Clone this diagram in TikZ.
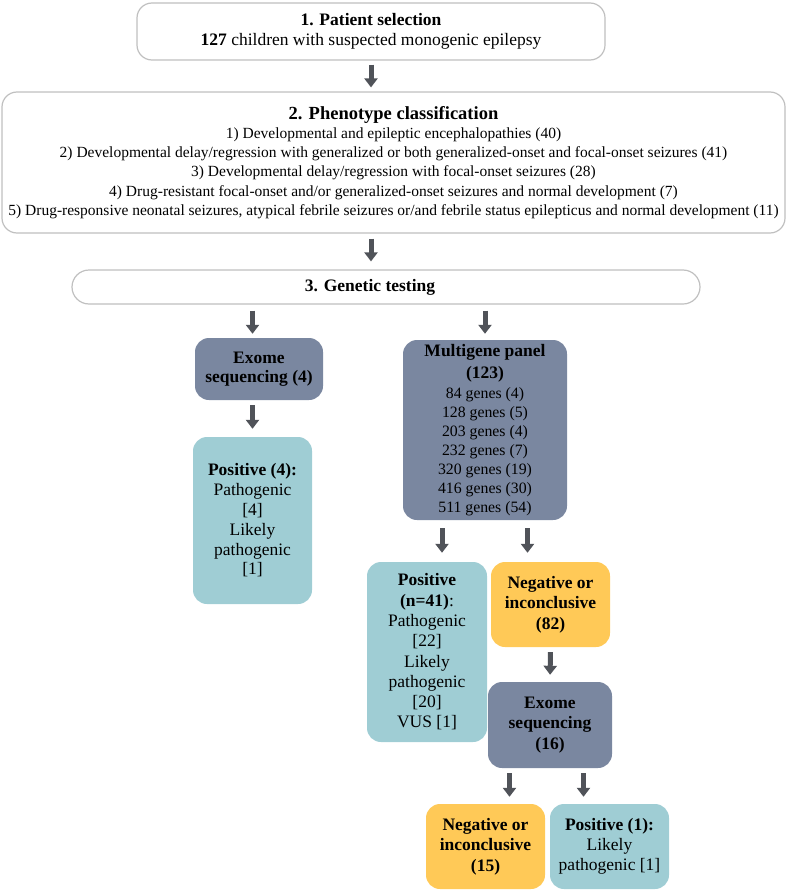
\documentclass[tikz,border=0pt]{standalone}
\usepackage{fontspec}
\setmainfont{Liberation Serif}
\usetikzlibrary{arrows.meta}
\definecolor{slatebox}{HTML}{7A87A0}
\definecolor{tealbox}{HTML}{9FCDD4}
\definecolor{ambbox}{HTML}{FFC957}
\definecolor{arrowgray}{HTML}{505359}
\definecolor{framegray}{HTML}{C0C0C0}
\tikzset{
  stagebox/.style={draw=framegray, line width=1.2pt, rounded corners=15pt, fill=white, align=center, inner sep=0pt},
  resultbox/.style={rounded corners=14pt, align=center, inner sep=0pt, font=\fontsize{17.5}{20.3}\selectfont},
  flow/.style={draw=arrowgray, line width=5pt, -{Triangle[width=13pt,length=9pt]}},
}

\begin{document}
\begin{tikzpicture}[x=1pt,y=-1pt]
	%%%%% START %%%%%
	\useasboundingbox (0,0) rectangle (789,891);
	
	% stages
	\node[stagebox, minimum width=468pt, minimum height=57pt, font=\fontsize{17.5}{19.5}\selectfont] (sel) at (371,31.5)
		{\textbf{1. Patient selection}\\\textbf{127} children with suspected monogenic epilepsy};
	\node[stagebox, minimum width=783pt, minimum height=141pt, font=\fontsize{15.5}{19.2}\selectfont] (pheno) at (393.5,162.5)
		{{\fontsize{18.5}{21}\selectfont\bfseries 2. Phenotype classification}\\
		1) Developmental and epileptic encephalopathies (40)\\
		2) Developmental delay/regression with generalized or both generalized-onset and focal-onset seizures (41)\\
		3) Developmental delay/regression with focal-onset seizures (28)\\
		4) Drug-resistant focal-onset and/or generalized-onset seizures and normal development (7)\\
		5) Drug-responsive neonatal seizures, atypical febrile seizures or/and febrile status epilepticus and normal development (11)};
	\node[stagebox, rounded corners=17pt, minimum width=628pt, minimum height=34pt, font=\fontsize{17.5}{20}\selectfont\bfseries] (gentest) at (386,287)
		{\hspace*{-32pt}3. Genetic testing};
	
	% tests and results
	\node[resultbox, fill=slatebox, minimum width=128pt, minimum height=62pt, font=\fontsize{17.5}{18.5}\selectfont] (exome) at (259,369)
		{\textbf{Exome}\\\textbf{sequencing (4)}};
	\node[resultbox, fill=tealbox, minimum width=119pt, minimum height=167pt, font=\fontsize{17.5}{19.8}\selectfont] (posA) at (252.5,520.5)
		{\textbf{Positive (4):}\\Pathogenic\\{[4]}\\Likely\\pathogenic\\{[1]}};
	\node[resultbox, fill=slatebox, minimum width=164pt, minimum height=180pt, font=\fontsize{15.8}{19}\selectfont] (panel) at (485,430)
		{{\fontsize{17.5}{20}\selectfont\bfseries Multigene panel}\\[3pt]{\fontsize{17.5}{20}\selectfont\bfseries (123)}\\[1pt]84 genes (4)\\128 genes (5)\\203 genes (4)\\232 genes (7)\\320 genes (19)\\416 genes (30)\\511 genes (54)};
	\node[resultbox, fill=tealbox, minimum width=120pt, minimum height=180pt] (posB) at (427,652)
		{\textbf{Positive}\\\textbf{(n=41)}:\\Pathogenic\\{[22]}\\Likely\\pathogenic\\{[20]}\\VUS [1]};
	\node[resultbox, fill=ambbox, minimum width=119pt, minimum height=85pt] (negA) at (550.5,604.5)
		{\textbf{Negative or}\\\textbf{inconclusive}\\\textbf{(82)}};
	\node[resultbox, fill=slatebox, minimum width=124pt, minimum height=86pt] (exomeB) at (550,725)
		{\textbf{Exome}\\\textbf{sequencing}\\\textbf{(16)}};
	\node[resultbox, fill=ambbox, minimum width=119pt, minimum height=85pt] (negB) at (485.5,846.5)
		{\textbf{Negative or}\\\textbf{inconclusive}\\\textbf{(15)}};
	\node[resultbox, fill=tealbox, minimum width=119pt, minimum height=85pt] (posC) at (609.5,846.5)
		{\textbf{Positive (1):}\\Likely\\pathogenic [1]};
	
	% arrows
	\draw[flow, shorten <=4pt, shorten >=4pt] (sel.south) -- (sel.south |- pheno.north);
	\draw[flow, shorten <=5pt, shorten >=8pt] (sel.south |- pheno.south) -- (sel.south |- gentest.north);
	\draw[flow, shorten <=6pt, shorten >=4pt] (posA.north |- gentest.south) -- (posA.north |- exome.north);
	\draw[flow, shorten <=5pt, shorten >=8pt] (posA.north |- exome.south) -- (posA.north);
	\draw[flow, shorten <=6pt, shorten >=6pt] (panel.north |- gentest.south) -- (panel.north);
	\draw[flow, shorten <=8pt, shorten >=9pt] ([xshift=15pt]posB.north |- panel.south) -- ([xshift=15pt]posB.north);
	\draw[flow, shorten <=8pt, shorten >=9pt] ([xshift=-23pt]negA.north |- panel.south) -- ([xshift=-23pt]negA.north);
	\draw[flow, shorten <=5pt, shorten >=7pt] (negA.south) -- (exomeB.north);
	\draw[flow, shorten <=5pt, shorten >=7pt] ([xshift=24pt]negB.north |- exomeB.south) -- ([xshift=24pt]negB.north);
	\draw[flow, shorten <=5pt, shorten >=7pt] ([xshift=-26pt]posC.north |- exomeB.south) -- ([xshift=-26pt]posC.north);
	
	%%%%% END %%%%%
\end{tikzpicture}
\end{document}
